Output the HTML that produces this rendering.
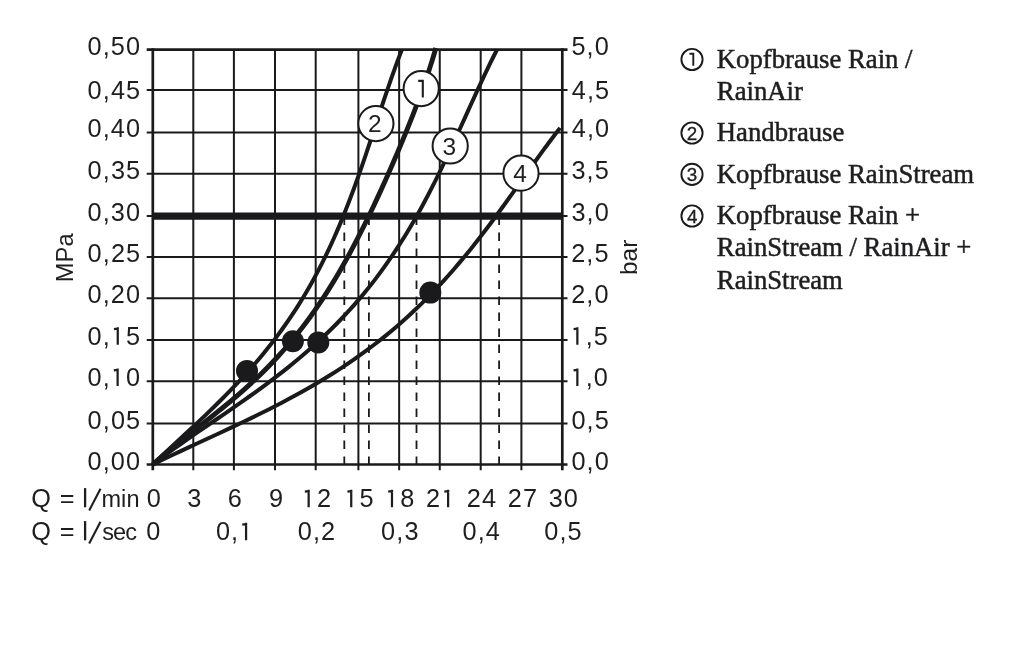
<!DOCTYPE html>
<html><head><meta charset="utf-8"><style>
html,body{margin:0;padding:0;background:#fff;width:1024px;height:652px;overflow:hidden}
svg{display:block;will-change:transform}
.sn{font-family:"Liberation Sans",sans-serif;fill:#1e1e20}
.sf{font-family:"Liberation Serif",serif;fill:#1e1e20}
</style></head><body>
<svg width="1024" height="652" viewBox="0 0 1024 652">
<rect width="1024" height="652" fill="#fff"/>
<g stroke="#1a1a1c" fill="none">
<line x1="146.7" y1="423.6" x2="567.5" y2="423.6" stroke-width="2.0"/>
<line x1="146.7" y1="381.2" x2="567.5" y2="381.2" stroke-width="2.0"/>
<line x1="146.7" y1="339.9" x2="567.5" y2="339.9" stroke-width="2.0"/>
<line x1="146.7" y1="298.2" x2="567.5" y2="298.2" stroke-width="2.0"/>
<line x1="146.7" y1="257" x2="567.5" y2="257" stroke-width="2.0"/>
<line x1="146.7" y1="216.1" x2="567.5" y2="216.1" stroke-width="2.0"/>
<line x1="146.7" y1="173.8" x2="567.5" y2="173.8" stroke-width="2.0"/>
<line x1="146.7" y1="132.4" x2="567.5" y2="132.4" stroke-width="2.0"/>
<line x1="146.7" y1="90.1" x2="567.5" y2="90.1" stroke-width="2.0"/>
<line x1="193.3" y1="49.6" x2="193.3" y2="470.2" stroke-width="2.0"/>
<line x1="233.9" y1="49.6" x2="233.9" y2="470.2" stroke-width="2.0"/>
<line x1="275" y1="49.6" x2="275" y2="470.2" stroke-width="2.0"/>
<line x1="315.7" y1="49.6" x2="315.7" y2="470.2" stroke-width="2.0"/>
<line x1="358.4" y1="49.6" x2="358.4" y2="470.2" stroke-width="2.0"/>
<line x1="399.15" y1="49.6" x2="399.15" y2="470.2" stroke-width="2.0"/>
<line x1="439.75" y1="49.6" x2="439.75" y2="470.2" stroke-width="2.0"/>
<line x1="480.7" y1="49.6" x2="480.7" y2="470.2" stroke-width="2.0"/>
<line x1="521.4" y1="49.6" x2="521.4" y2="470.2" stroke-width="2.0"/>
<line x1="146.7" y1="49.6" x2="567.5" y2="49.6" stroke-width="2.7"/>
<line x1="146.7" y1="464.6" x2="567.5" y2="464.6" stroke-width="2.5"/>
<line x1="152.8" y1="48.3" x2="152.8" y2="470.2" stroke-width="2.7"/>
<line x1="562.3" y1="48.3" x2="562.3" y2="470.2" stroke-width="2.7"/>
<line x1="152.8" y1="216.1" x2="562.3" y2="216.1" stroke-width="7.2"/>
<line x1="344.3" y1="216.4" x2="344.3" y2="464.6" stroke-width="1.8" stroke-dasharray="8.5 7.5"/>
<line x1="368.9" y1="216.4" x2="368.9" y2="464.6" stroke-width="1.8" stroke-dasharray="8.5 7.5"/>
<line x1="416.5" y1="216.4" x2="416.5" y2="464.6" stroke-width="1.8" stroke-dasharray="8.5 7.5"/>
<line x1="499.1" y1="216.4" x2="499.1" y2="464.6" stroke-width="1.8" stroke-dasharray="8.5 7.5"/>
<path d="M152.8 464.5C154.94 463.46 161.33 460.31 165.62 458.25C169.91 456.18 174.23 454.14 178.55 452.11C182.88 450.07 187.22 448.05 191.56 446.03C195.9 444.02 200.25 442.01 204.59 440C208.94 437.98 213.29 435.98 217.63 433.96C221.97 431.94 226.31 429.92 230.63 427.89C234.96 425.85 239.28 423.81 243.58 421.76C247.87 419.7 252.16 417.63 256.43 415.53C260.69 413.44 264.94 411.33 269.16 409.19C273.38 407.06 277.58 404.9 281.76 402.71C285.93 400.53 290.08 398.32 294.19 396.07C298.3 393.83 302.39 391.56 306.44 389.25C310.5 386.95 314.52 384.61 318.5 382.23C322.48 379.86 326.44 377.45 330.35 375.01C334.26 372.56 338.13 370.08 341.97 367.55C345.8 365.03 349.6 362.47 353.36 359.87C357.11 357.26 360.83 354.62 364.5 351.94C368.18 349.25 371.81 346.53 375.4 343.76C378.99 340.99 382.54 338.18 386.04 335.33C389.55 332.48 393.02 329.59 396.44 326.65C399.86 323.71 403.24 320.74 406.58 317.72C409.92 314.7 413.21 311.63 416.47 308.53C419.73 305.43 422.94 302.29 426.12 299.11C429.29 295.92 432.43 292.7 435.53 289.44C438.63 286.18 441.69 282.88 444.71 279.55C447.74 276.22 450.72 272.85 453.68 269.45C456.63 266.04 459.55 262.6 462.45 259.14C465.34 255.67 468.19 252.17 471.03 248.65C473.86 245.12 476.66 241.56 479.44 237.99C482.22 234.41 484.98 230.8 487.71 227.18C490.45 223.56 493.16 219.91 495.86 216.25C498.56 212.6 501.24 208.92 503.91 205.23C506.58 201.54 509.23 197.84 511.89 194.13C514.54 190.43 517.18 186.71 519.82 182.99C522.47 179.28 525.1 175.56 527.75 171.85C530.4 168.13 533.04 164.42 535.7 160.72C538.36 157.03 541.02 153.33 543.71 149.66C546.4 145.99 549.09 142.33 551.82 138.7C554.55 135.06 558.7 129.67 560.07 127.87" stroke-width="4.0" stroke-linecap="butt" stroke-linejoin="round"/>
<path d="M152.8 464.5C154.65 463.1 160.16 458.88 163.89 456.12C167.61 453.36 171.38 450.63 175.16 447.93C178.95 445.22 182.76 442.54 186.58 439.87C190.4 437.2 194.25 434.56 198.09 431.91C201.93 429.27 205.79 426.64 209.65 424C213.5 421.37 217.36 418.74 221.21 416.1C225.06 413.46 228.92 410.82 232.75 408.16C236.58 405.51 240.41 402.85 244.22 400.16C248.02 397.48 251.81 394.78 255.58 392.06C259.35 389.34 263.1 386.6 266.82 383.82C270.53 381.05 274.23 378.26 277.89 375.43C281.55 372.6 285.19 369.75 288.78 366.85C292.38 363.96 295.94 361.03 299.47 358.07C302.99 355.1 306.48 352.1 309.93 349.06C313.37 346.01 316.78 342.93 320.14 339.8C323.5 336.68 326.83 333.51 330.1 330.29C333.38 327.08 336.61 323.82 339.79 320.51C342.98 317.21 346.11 313.86 349.21 310.46C352.3 307.06 355.34 303.62 358.34 300.12C361.33 296.63 364.28 293.09 367.18 289.5C370.08 285.91 372.94 282.27 375.74 278.59C378.55 274.91 381.31 271.18 384.02 267.4C386.73 263.62 389.4 259.8 392.02 255.93C394.64 252.06 397.22 248.14 399.75 244.19C402.28 240.23 404.77 236.23 407.22 232.19C409.67 228.15 412.07 224.06 414.44 219.94C416.81 215.82 419.14 211.66 421.44 207.47C423.73 203.27 425.99 199.04 428.22 194.78C430.45 190.52 432.64 186.22 434.81 181.91C436.98 177.59 439.12 173.23 441.24 168.86C443.36 164.5 445.45 160.1 447.53 155.69C449.61 151.28 451.67 146.84 453.72 142.4C455.77 137.96 457.8 133.5 459.83 129.04C461.86 124.58 463.87 120.11 465.9 115.64C467.92 111.18 469.94 106.7 471.96 102.24C473.99 97.78 476.02 93.32 478.07 88.88C480.12 84.44 482.18 80.01 484.26 75.6C486.35 71.2 488.45 66.81 490.59 62.45C492.72 58.1 496 51.65 497.09 49.49" stroke-width="4.0" stroke-linecap="butt" stroke-linejoin="round"/>
<path d="M152.8 464.5C154.25 463.12 158.6 458.95 161.51 456.19C164.43 453.44 167.36 450.7 170.3 447.96C173.23 445.22 176.17 442.49 179.12 439.76C182.06 437.03 185 434.3 187.94 431.57C190.88 428.83 193.82 426.1 196.74 423.35C199.67 420.6 202.59 417.85 205.49 415.08C208.39 412.31 211.29 409.53 214.16 406.73C217.03 403.93 219.89 401.12 222.72 398.28C225.56 395.44 228.38 392.59 231.16 389.7C233.95 386.82 236.72 383.92 239.46 380.98C242.2 378.05 244.91 375.09 247.6 372.1C250.28 369.11 252.93 366.09 255.55 363.04C258.17 359.98 260.76 356.9 263.32 353.78C265.87 350.66 268.39 347.51 270.88 344.33C273.36 341.14 275.81 337.92 278.23 334.66C280.64 331.4 283.02 328.1 285.35 324.77C287.69 321.43 289.99 318.06 292.26 314.65C294.52 311.24 296.74 307.79 298.93 304.31C301.12 300.82 303.26 297.29 305.37 293.73C307.48 290.17 309.55 286.57 311.58 282.93C313.62 279.29 315.61 275.61 317.57 271.89C319.53 268.18 321.45 264.43 323.33 260.64C325.22 256.85 327.07 253.03 328.88 249.17C330.7 245.31 332.47 241.42 334.22 237.49C335.97 233.57 337.68 229.61 339.37 225.62C341.05 221.63 342.7 217.61 344.33 213.56C345.95 209.52 347.55 205.44 349.12 201.34C350.7 197.24 352.24 193.11 353.77 188.96C355.29 184.82 356.79 180.65 358.28 176.46C359.76 172.27 361.23 168.06 362.68 163.84C364.13 159.62 365.57 155.38 366.99 151.14C368.42 146.89 369.84 142.63 371.25 138.37C372.66 134.11 374.06 129.84 375.46 125.57C376.87 121.3 378.27 117.03 379.68 112.77C381.09 108.5 382.49 104.24 383.92 99.99C385.34 95.74 386.77 91.49 388.21 87.27C389.66 83.04 391.12 78.83 392.61 74.64C394.09 70.46 395.6 66.29 397.13 62.15C398.67 58.02 401.05 51.88 401.83 49.83" stroke-width="4.0" stroke-linecap="butt" stroke-linejoin="round"/>
<path d="M152.8 464.5C154.38 463.09 159.06 458.81 162.27 456.03C165.47 453.25 168.73 450.54 172.02 447.84C175.3 445.15 178.62 442.49 181.95 439.85C185.28 437.2 188.64 434.58 192 431.95C195.35 429.33 198.72 426.72 202.07 424.09C205.43 421.47 208.79 418.85 212.12 416.2C215.45 413.56 218.78 410.91 222.08 408.23C225.38 405.55 228.66 402.85 231.9 400.12C235.15 397.39 238.37 394.63 241.56 391.84C244.74 389.04 247.9 386.22 251.01 383.35C254.12 380.49 257.2 377.59 260.24 374.64C263.27 371.7 266.26 368.71 269.21 365.68C272.16 362.66 275.07 359.58 277.94 356.47C280.8 353.35 283.62 350.19 286.39 346.99C289.17 343.78 291.89 340.53 294.58 337.24C297.26 333.95 299.9 330.61 302.5 327.23C305.1 323.85 307.65 320.42 310.16 316.95C312.67 313.49 315.14 309.98 317.57 306.43C320 302.88 322.39 299.29 324.74 295.66C327.09 292.03 329.4 288.36 331.68 284.66C333.96 280.96 336.2 277.22 338.41 273.45C340.62 269.69 342.79 265.88 344.94 262.05C347.09 258.22 349.2 254.35 351.29 250.46C353.38 246.57 355.44 242.65 357.47 238.71C359.51 234.77 361.52 230.8 363.51 226.82C365.5 222.83 367.47 218.82 369.42 214.79C371.37 210.76 373.29 206.7 375.2 202.64C377.12 198.57 379.01 194.48 380.88 190.38C382.76 186.28 384.62 182.16 386.46 178.02C388.31 173.89 390.13 169.74 391.95 165.57C393.76 161.41 395.56 157.23 397.34 153.03C399.13 148.83 400.89 144.62 402.64 140.4C404.39 136.17 406.13 131.92 407.85 127.66C409.56 123.4 411.26 119.12 412.94 114.82C414.61 110.51 416.27 106.19 417.9 101.84C419.53 97.49 421.13 93.12 422.71 88.71C424.28 84.31 425.83 79.88 427.33 75.4C428.84 70.93 430.31 66.43 431.73 61.87C433.16 57.31 435.18 50.37 435.87 48.07" stroke-width="4.9" stroke-linecap="butt" stroke-linejoin="round"/>
<circle cx="247" cy="370.9" r="11" fill="#1a1a1c" stroke="none"/>
<circle cx="292.9" cy="341.2" r="11" fill="#1a1a1c" stroke="none"/>
<circle cx="318.3" cy="342.4" r="11" fill="#1a1a1c" stroke="none"/>
<circle cx="430.3" cy="292.6" r="11" fill="#1a1a1c" stroke="none"/>
<circle cx="421.2" cy="88.6" r="17.6" fill="#fff" stroke-width="2"/>
<circle cx="375.9" cy="123.6" r="17.6" fill="#fff" stroke-width="2"/>
<circle cx="450.2" cy="146" r="17.6" fill="#fff" stroke-width="2"/>
<circle cx="521" cy="173.2" r="17.6" fill="#fff" stroke-width="2"/>
</g><g>
<path d="M422.8 97.6V79.9M423.8 80.9H418.2" stroke="#1e1e20" stroke-width="2.1" fill="none"/>
<text x="368.09" y="132.3" class="sn" font-size="24.5">2</text>
<text x="442.45" y="154.7" class="sn" font-size="24.5">3</text>
<text x="513.31" y="181.9" class="sn" font-size="24.5">4</text>
<text x="87.5" y="469.5" class="sn" font-size="25.3" letter-spacing="1.1">0,00</text>
<text x="571.4" y="469.5" class="sn" font-size="25.3" letter-spacing="1.1">0,0</text>
<text x="87.62" y="428.5" class="sn" font-size="25.3" letter-spacing="1.1">0,05</text>
<text x="571.4" y="428.5" class="sn" font-size="25.3" letter-spacing="1.1">0,5</text>
<text x="87.5" y="386.1" class="sn" font-size="25.3">0</text>
<text x="102.67" y="386.1" class="sn" font-size="25.3">,</text>
<path d="M117.63 386.1L117.63 368.52 M118.74 369.63L113.84 370.39" stroke="#1e1e20" stroke-width="2.23" fill="none" stroke-linecap="butt"/>
<text x="125.97" y="386.1" class="sn" font-size="25.3">0</text>
<path d="M577.36 386.1L577.36 368.52 M578.47 369.63L573.56 370.39" stroke="#1e1e20" stroke-width="2.23" fill="none" stroke-linecap="butt"/>
<text x="585.7" y="386.1" class="sn" font-size="25.3">,</text>
<text x="593.82" y="386.1" class="sn" font-size="25.3">0</text>
<text x="87.62" y="344.8" class="sn" font-size="25.3">0</text>
<text x="102.8" y="344.8" class="sn" font-size="25.3">,</text>
<path d="M117.76 344.8L117.76 327.22 M118.87 328.33L113.96 329.09" stroke="#1e1e20" stroke-width="2.23" fill="none" stroke-linecap="butt"/>
<text x="126.1" y="344.8" class="sn" font-size="25.3">5</text>
<path d="M577.36 344.8L577.36 327.22 M578.47 328.33L573.56 329.09" stroke="#1e1e20" stroke-width="2.23" fill="none" stroke-linecap="butt"/>
<text x="585.7" y="344.8" class="sn" font-size="25.3">,</text>
<text x="593.82" y="344.8" class="sn" font-size="25.3">5</text>
<text x="87.5" y="303.1" class="sn" font-size="25.3" letter-spacing="1.1">0,20</text>
<text x="571.15" y="303.1" class="sn" font-size="25.3" letter-spacing="1.1">2,0</text>
<text x="87.62" y="261.9" class="sn" font-size="25.3" letter-spacing="1.1">0,25</text>
<text x="571.15" y="261.9" class="sn" font-size="25.3" letter-spacing="1.1">2,5</text>
<text x="87.5" y="221" class="sn" font-size="25.3" letter-spacing="1.1">0,30</text>
<text x="571.4" y="221" class="sn" font-size="25.3" letter-spacing="1.1">3,0</text>
<text x="87.62" y="178.7" class="sn" font-size="25.3" letter-spacing="1.1">0,35</text>
<text x="571.4" y="178.7" class="sn" font-size="25.3" letter-spacing="1.1">3,5</text>
<text x="87.5" y="137.3" class="sn" font-size="25.3" letter-spacing="1.1">0,40</text>
<text x="571.77" y="137.3" class="sn" font-size="25.3" letter-spacing="1.1">4,0</text>
<text x="87.62" y="98.5" class="sn" font-size="25.3" letter-spacing="1.1">0,45</text>
<text x="571.77" y="98.5" class="sn" font-size="25.3" letter-spacing="1.1">4,5</text>
<text x="87.5" y="54.5" class="sn" font-size="25.3" letter-spacing="1.1">0,50</text>
<text x="571.4" y="54.5" class="sn" font-size="25.3" letter-spacing="1.1">5,0</text>
<text transform="translate(73.1 282.2) rotate(-90)" class="sn" font-size="23.8">MPa</text>
<text transform="translate(637.3 275.1) rotate(-90)" class="sn" font-size="24.5">bar</text>
<text x="146.74" y="507.3" class="sn" font-size="25.3" letter-spacing="1.1">0</text>
<text x="187.3" y="507.3" class="sn" font-size="25.3" letter-spacing="1.1">3</text>
<text x="227.78" y="507.3" class="sn" font-size="25.3" letter-spacing="1.1">6</text>
<text x="269" y="507.3" class="sn" font-size="25.3" letter-spacing="1.1">9</text>
<path d="M308.66 507.3L308.66 489.72 M309.77 490.83L304.86 491.59" stroke="#1e1e20" stroke-width="2.23" fill="none" stroke-linecap="butt"/>
<text x="317" y="507.3" class="sn" font-size="25.3">2</text>
<path d="M351.23 507.3L351.23 489.72 M352.34 490.83L347.44 491.59" stroke="#1e1e20" stroke-width="2.23" fill="none" stroke-linecap="butt"/>
<text x="359.57" y="507.3" class="sn" font-size="25.3">5</text>
<path d="M391.98 507.3L391.98 489.72 M393.09 490.83L388.19 491.59" stroke="#1e1e20" stroke-width="2.23" fill="none" stroke-linecap="butt"/>
<text x="400.32" y="507.3" class="sn" font-size="25.3">8</text>
<text x="426.12" y="507.3" class="sn" font-size="25.3">2</text>
<path d="M448.13 507.3L448.13 489.72 M449.24 490.83L444.33 491.59" stroke="#1e1e20" stroke-width="2.23" fill="none" stroke-linecap="butt"/>
<text x="466.82" y="507.3" class="sn" font-size="25.3" letter-spacing="1.1">24</text>
<text x="507.84" y="507.3" class="sn" font-size="25.3" letter-spacing="1.1">27</text>
<text x="548.67" y="507.3" class="sn" font-size="25.3" letter-spacing="1.1">30</text>
<text x="146.34" y="540.3" class="sn" font-size="25.3" letter-spacing="1.1">0</text>
<text x="215.94" y="540.3" class="sn" font-size="25.3">0</text>
<text x="231.11" y="540.3" class="sn" font-size="25.3">,</text>
<path d="M246.07 540.3L246.07 522.72 M247.18 523.83L242.27 524.59" stroke="#1e1e20" stroke-width="2.23" fill="none" stroke-linecap="butt"/>
<text x="297.8" y="540.3" class="sn" font-size="25.3" letter-spacing="1.1">0,2</text>
<text x="381.12" y="540.3" class="sn" font-size="25.3" letter-spacing="1.1">0,3</text>
<text x="462.49" y="540.3" class="sn" font-size="25.3" letter-spacing="1.1">0,4</text>
<text x="544.27" y="540.3" class="sn" font-size="25.3" letter-spacing="1.1">0,5</text>
<text x="31.27" y="507.3" class="sn" font-size="25.3">Q</text>
<text x="59.75" y="507.3" class="sn" font-size="25.3">=</text>
<line x1="85.1" y1="488.1" x2="85.1" y2="507.3" stroke="#1e1e20" stroke-width="2.3"/>
<line x1="89.2" y1="510.5" x2="100.5" y2="488.7" stroke="#1e1e20" stroke-width="2.1"/>
<text x="101.4" y="507.3" class="sn" font-size="23.5" letter-spacing="0.1">min</text>
<text x="31.27" y="540.3" class="sn" font-size="25.3">Q</text>
<text x="59.75" y="540.3" class="sn" font-size="25.3">=</text>
<line x1="85.1" y1="521.1" x2="85.1" y2="540.3" stroke="#1e1e20" stroke-width="2.3"/>
<line x1="89.2" y1="543.5" x2="100.5" y2="521.7" stroke="#1e1e20" stroke-width="2.1"/>
<text x="102.28" y="540.3" class="sn" font-size="23.5" letter-spacing="-0.9">sec</text>
<circle cx="692" cy="59.5" r="10.6" fill="none" stroke="#1a1a1c" stroke-width="1.9"/>
<path d="M693.3 65.8V52.9M694.2 53.8H689.4" stroke="#1e1e20" stroke-width="1.9" fill="none"/>
<text x="716.85" y="67.6" class="sf" font-size="26.7" stroke="#1e1e20" stroke-width="0.5">Kopfbrause Rain /</text>
<text x="716.85" y="100.2" class="sf" font-size="26.7" stroke="#1e1e20" stroke-width="0.5">RainAir</text>
<circle cx="692" cy="133" r="10.6" fill="none" stroke="#1a1a1c" stroke-width="1.9"/>
<text x="686.81" y="139.6" class="sn" font-size="18.8" stroke="#1e1e20" stroke-width="0.35">2</text>
<text x="716.85" y="141.1" class="sf" font-size="26.7" stroke="#1e1e20" stroke-width="0.5">Handbrause</text>
<circle cx="692" cy="174.4" r="10.6" fill="none" stroke="#1a1a1c" stroke-width="1.9"/>
<text x="686.81" y="181" class="sn" font-size="18.8" stroke="#1e1e20" stroke-width="0.35">3</text>
<text x="716.85" y="182.5" class="sf" font-size="26.7" stroke="#1e1e20" stroke-width="0.5">Kopfbrause RainStream</text>
<circle cx="692" cy="216" r="10.6" fill="none" stroke="#1a1a1c" stroke-width="1.9"/>
<text x="686.88" y="222.6" class="sn" font-size="18.8" stroke="#1e1e20" stroke-width="0.35">4</text>
<text x="716.85" y="224.1" class="sf" font-size="26.7" stroke="#1e1e20" stroke-width="0.5">Kopfbrause Rain +</text>
<text x="716.85" y="256.3" class="sf" font-size="26.7" stroke="#1e1e20" stroke-width="0.5">RainStream / RainAir +</text>
<text x="716.85" y="288.6" class="sf" font-size="26.7" stroke="#1e1e20" stroke-width="0.5">RainStream</text>
</g>
</svg>
</body></html>
